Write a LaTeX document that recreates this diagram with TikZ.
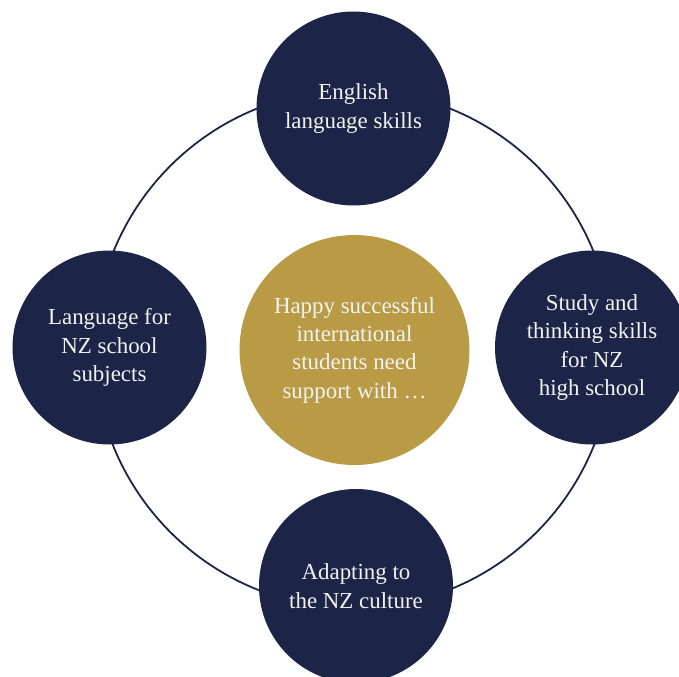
\documentclass[tikz,border=0pt]{standalone}
\usepackage{fontspec}
\setmainfont{Liberation Serif}
\definecolor{navy}{HTML}{1C2547}
\definecolor{gold}{HTML}{B99B45}
\definecolor{paper}{HTML}{F2F2F2}
\tikzset{
  topic/.style={circle, fill=navy, minimum size=194bp, inner sep=0pt,
    text=paper, align=center, font=\fontsize{23}{28.5}\selectfont},
  hub/.style={circle, fill=gold, minimum size=230bp, inner sep=0pt,
    text=paper, align=center, font=\fontsize{23}{28.5}\selectfont},
  ring/.style={draw=navy, line width=1.8bp}
}
\begin{document}
\begin{tikzpicture}[x=1bp, y=-1bp]
   \useasboundingbox (0,0) rectangle (679,677);
   \coordinate (O) at (353.5,349);
   \draw[ring] (O) circle (259bp);
   \node[hub] (Hub) at (354.5,350) {Happy successful\\international\\students need\\support with \dots};
   \node[topic] (Top) at (353.5,108.5) {English\\language skills};
   \node[topic] (Right) at (592,347.5) {Study and\\thinking skills\\for NZ\\high school};
   \node[topic] (Bottom) at (356,586) {Adapting to\\the NZ culture};
   \node[topic] (Left) at (109.5,347.5) {Language for\\NZ school\\subjects};
\end{tikzpicture}
\end{document}
